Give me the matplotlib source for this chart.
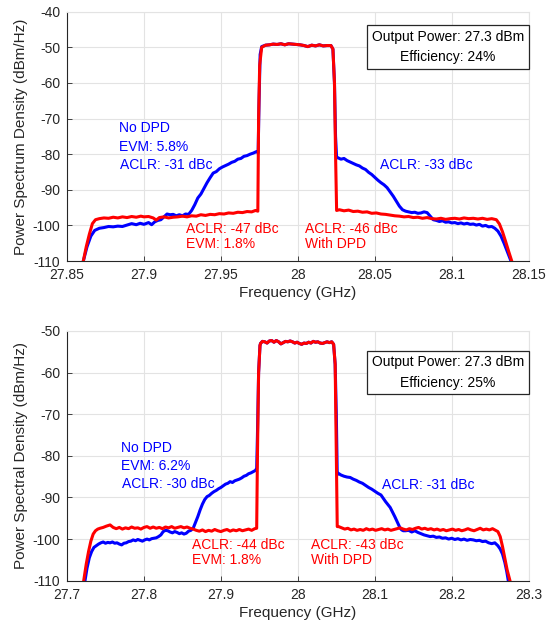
import matplotlib
matplotlib.use("Agg")
import matplotlib.pyplot as plt
from matplotlib.patches import Rectangle

plt.rcParams['font.family'] = ['Liberation Sans', 'DejaVu Sans']
plt.rcParams['axes.unicode_minus'] = False

# ---------------- Upper panel: 50 MHz carrier at 28 GHz ----------------
top_freq_nodpd = [
    27.8606, 27.8630, 27.8655, 27.8680, 27.8710, 27.8740, 27.8770, 27.8800, 27.8830, 27.8860,
    27.8890, 27.8920, 27.8950, 27.8975, 27.9000, 27.9030, 27.9050, 27.9070, 27.9090, 27.9110,
    27.9130, 27.9150, 27.9170, 27.9190, 27.9210, 27.9230, 27.9250, 27.9270, 27.9290, 27.9310,
    27.9330, 27.9350, 27.9370, 27.9390, 27.9410, 27.9430, 27.9450, 27.9470, 27.9490, 27.9510,
    27.9530, 27.9550, 27.9570, 27.9590, 27.9610, 27.9630, 27.9650, 27.9670, 27.9690, 27.9710,
    27.9730, 27.9742, 27.9748, 27.9755, 27.9765,
    27.9790, 27.9815, 27.9840, 27.9865, 27.9890, 27.9915, 27.9940, 27.9965, 27.9990, 28.0015,
    28.0040, 28.0065, 28.0090, 28.0115, 28.0140, 28.0165, 28.0190, 28.0215, 28.0228, 28.0238,
    28.0245, 28.0252,
    28.0260, 28.0280, 28.0300, 28.0320, 28.0340, 28.0360, 28.0380, 28.0400, 28.0420, 28.0440,
    28.0460, 28.0480, 28.0500, 28.0520, 28.0540, 28.0560, 28.0580, 28.0600, 28.0620, 28.0640,
    28.0660, 28.0680, 28.0700, 28.0720, 28.0740, 28.0760, 28.0780, 28.0800, 28.0820, 28.0840,
    28.0860, 28.0880, 28.0900, 28.0920, 28.0940, 28.0960, 28.0980, 28.1000, 28.1020, 28.1040,
    28.1060, 28.1080, 28.1100, 28.1120, 28.1140, 28.1160, 28.1180, 28.1200, 28.1220, 28.1240,
    28.1260, 28.1280, 28.1300, 28.1320, 28.1340, 28.1360, 28.1385,
]
top_psd_nodpd = [
    -110.0, -106.0, -103.0, -101.4, -100.8, -100.6, -100.3, -100.4, -100.2, -100.3,
    -99.9, -99.5, -99.8, -99.4, -99.7, -99.2, -99.8, -99.0, -98.6, -98.4,
    -97.6, -96.8, -97.0, -96.9, -97.3, -97.0, -97.3, -96.8, -96.9, -95.8,
    -94.2, -92.3, -91.2, -89.6, -88.0, -86.6, -85.3, -84.9, -84.1, -83.6,
    -83.2, -82.8, -82.3, -82.0, -81.4, -81.2, -80.6, -80.4, -80.0, -79.7,
    -79.3, -79.6, -65.0, -52.0, -49.8,
    -49.4, -49.3, -49.1, -49.2, -49.0, -49.3, -49.0, -49.1, -49.2, -49.3,
    -49.5, -49.8, -49.4, -49.6, -49.3, -49.6, -49.5, -49.5, -50.5, -60.0,
    -75.0, -81.0,
    -81.0, -81.4, -81.2, -81.8, -82.2, -82.6, -83.0, -83.3, -83.9, -84.3,
    -85.1, -85.7, -86.5, -87.3, -88.0, -88.6, -89.4, -90.6, -91.8, -93.2,
    -94.6, -95.6, -96.0, -96.2, -96.4, -96.3, -96.6, -96.5, -96.2, -96.4,
    -97.4, -98.4, -98.6, -98.9, -98.7, -99.1, -99.0, -99.3, -99.2, -99.5,
    -99.3, -99.6, -99.4, -99.7, -99.6, -99.9, -99.7, -100.2, -100.0, -100.4,
    -100.3, -100.8, -101.6, -103.0, -105.0, -107.2, -110.0,
]

top_freq_dpd = [
    27.8606, 27.8625, 27.8645, 27.8665, 27.8685, 27.8710, 27.8740, 27.8770, 27.8800, 27.8830,
    27.8860, 27.8890, 27.8920, 27.8950, 27.8980, 27.9000, 27.9030, 27.9060, 27.9080, 27.9100,
    27.9130, 27.9160, 27.9190, 27.9220, 27.9250, 27.9280, 27.9310, 27.9340, 27.9370, 27.9400,
    27.9430, 27.9460, 27.9490, 27.9520, 27.9550, 27.9580, 27.9610, 27.9640, 27.9670, 27.9700,
    27.9725, 27.9740, 27.9745, 27.9752, 27.9765,
    27.9790, 27.9815, 27.9840, 27.9865, 27.9890, 27.9915, 27.9940, 27.9965, 27.9990, 28.0015,
    28.0040, 28.0065, 28.0090, 28.0115, 28.0140, 28.0165, 28.0190, 28.0215, 28.0228, 28.0238,
    28.0245, 28.0252,
    28.0270, 28.0300, 28.0330, 28.0360, 28.0390, 28.0420, 28.0450, 28.0480, 28.0510, 28.0540,
    28.0570, 28.0600, 28.0630, 28.0660, 28.0690, 28.0720, 28.0750, 28.0780, 28.0810, 28.0840,
    28.0870, 28.0900, 28.0930, 28.0960, 28.0990, 28.1020, 28.1050, 28.1080, 28.1110, 28.1140,
    28.1170, 28.1200, 28.1230, 28.1260, 28.1290, 28.1310, 28.1330, 28.1350, 28.1370, 28.1390,
]
top_psd_dpd = [
    -110.0, -106.0, -102.5, -99.5, -98.4, -98.1, -97.9, -98.0, -97.7, -97.9,
    -97.6, -97.8, -97.5, -97.7, -97.4, -97.6, -97.5, -97.9, -98.5, -97.8,
    -97.6, -97.9, -97.7, -97.6, -97.4, -97.6, -97.3, -97.4, -97.0, -97.2,
    -96.9, -97.0, -96.7, -96.8, -96.5, -96.6, -96.3, -96.4, -96.1, -96.2,
    -95.8, -96.0, -70.0, -55.0, -50.0,
    -49.4, -49.3, -49.1, -49.2, -49.0, -49.3, -49.0, -49.1, -49.2, -49.3,
    -49.5, -49.8, -49.4, -49.6, -49.3, -49.6, -49.5, -49.5, -50.5, -60.0,
    -80.0, -95.8,
    -95.6, -95.9, -95.7, -96.1, -96.0, -96.3, -96.2, -96.6, -96.5, -96.8,
    -96.9, -97.1, -97.3, -97.4, -97.6, -97.5, -97.8, -97.7, -98.0, -97.8,
    -98.1, -98.2, -98.0, -98.3, -98.1, -98.0, -98.2, -97.9, -98.1, -98.0,
    -98.2, -98.0, -98.3, -98.1, -98.4, -99.6, -101.8, -104.5, -107.3, -110.0,
]

# ---------------- Lower panel: 100 MHz carrier at 28 GHz ----------------
bot_freq_nodpd = [
    27.7234, 27.7260, 27.7290, 27.7320, 27.7350, 27.7380, 27.7410, 27.7440, 27.7470, 27.7500,
    27.7530, 27.7560, 27.7590, 27.7620, 27.7650, 27.7680, 27.7710, 27.7740, 27.7770, 27.7800,
    27.7830, 27.7860, 27.7890, 27.7920, 27.7950, 27.7980, 27.8010, 27.8040, 27.8070, 27.8100,
    27.8130, 27.8160, 27.8190, 27.8220, 27.8250, 27.8280, 27.8310, 27.8340, 27.8370, 27.8400,
    27.8430, 27.8460, 27.8490, 27.8520, 27.8550, 27.8580, 27.8610, 27.8640, 27.8670, 27.8700,
    27.8730, 27.8760, 27.8790, 27.8820, 27.8850, 27.8880, 27.8910, 27.8940, 27.8970, 27.9000,
    27.9030, 27.9060, 27.9090, 27.9120, 27.9150, 27.9180, 27.9210, 27.9240, 27.9270, 27.9300,
    27.9330, 27.9360, 27.9390, 27.9420, 27.9450, 27.9465, 27.9475, 27.9490, 27.9508,
    27.9515, 27.9540, 27.9570, 27.9600, 27.9630, 27.9660, 27.9690, 27.9720, 27.9750, 27.9780,
    27.9810, 27.9840, 27.9870, 27.9900, 27.9930, 27.9960, 27.9990, 28.0020, 28.0050, 28.0080,
    28.0110, 28.0140, 28.0170, 28.0200, 28.0230, 28.0260, 28.0290, 28.0320, 28.0350, 28.0380,
    28.0410, 28.0440, 28.0465, 28.0485, 28.0500, 28.0512,
    28.0526, 28.0560, 28.0600, 28.0640, 28.0680, 28.0720, 28.0760, 28.0800, 28.0840, 28.0880,
    28.0920, 28.0960, 28.1000, 28.1040, 28.1080, 28.1110, 28.1140, 28.1170, 28.1200, 28.1230,
    28.1260, 28.1290, 28.1310, 28.1330, 28.1350, 28.1370, 28.1400, 28.1440, 28.1480, 28.1520,
    28.1560, 28.1600, 28.1640, 28.1680, 28.1720, 28.1760, 28.1800, 28.1840, 28.1880, 28.1920,
    28.1960, 28.2000, 28.2040, 28.2080, 28.2120, 28.2160, 28.2200, 28.2240, 28.2280, 28.2320,
    28.2360, 28.2400, 28.2440, 28.2480, 28.2520, 28.2560, 28.2600, 28.2630, 28.2660, 28.2690,
    28.2715, 28.2735,
]
bot_psd_nodpd = [
    -110.0, -107.0, -104.5, -103.0, -102.0, -101.6, -101.2, -100.9, -100.7, -101.0,
    -100.8, -100.9, -100.7, -101.0, -100.9, -101.2, -101.4, -101.0, -100.9, -100.6,
    -100.5, -100.2, -100.4, -100.1, -100.3, -100.5, -100.2, -100.0, -100.2, -99.9,
    -99.8, -99.7, -99.4, -99.0, -98.2, -97.9, -98.0, -98.3, -98.5, -98.2,
    -98.4, -98.7, -98.5, -98.8, -98.6, -98.1, -97.9, -97.4, -96.0, -94.6,
    -93.0, -91.6, -90.5, -89.8, -89.5, -89.0, -88.6, -88.3, -87.9, -87.6,
    -87.2, -86.8, -86.6, -86.2, -86.4, -86.0, -85.8, -85.6, -85.3, -84.9,
    -84.7, -84.3, -84.1, -83.8, -83.5, -83.0, -75.0, -60.0, -53.5,
    -53.0, -52.5, -52.6, -52.9, -52.4, -52.3, -52.7, -52.3, -52.6, -53.1,
    -52.8, -52.5, -52.6, -52.4, -52.6, -52.9, -52.7, -53.0, -53.2, -52.9,
    -53.0, -52.7, -52.9, -52.5, -52.7, -52.6, -52.9, -53.0, -52.8, -52.6,
    -52.8, -52.6, -53.2, -58.0, -70.0, -84.5,
    -84.2, -84.6, -84.9, -85.1, -85.2, -85.6, -85.9, -86.3, -86.6, -87.1,
    -87.6, -88.0, -88.5, -89.0, -89.4, -90.2, -91.0, -91.7, -92.4, -93.5,
    -94.6, -95.8, -96.6, -97.4, -97.8, -98.0, -98.0, -97.9, -98.3, -98.0,
    -98.4, -98.7, -99.0, -99.2, -99.4, -99.3, -99.6, -99.5, -99.8, -99.7,
    -100.0, -99.8, -100.1, -99.9, -100.2, -100.0, -100.3, -100.1, -100.2, -100.4,
    -100.3, -100.6, -100.5, -100.9, -101.1, -100.9, -101.6, -102.4, -103.6, -105.6,
    -107.8, -110.0,
]

bot_freq_dpd = [
    27.7217, 27.7250, 27.7280, 27.7310, 27.7340, 27.7370, 27.7400, 27.7430, 27.7470, 27.7510,
    27.7560, 27.7600, 27.7640, 27.7680, 27.7720, 27.7760, 27.7800, 27.7840, 27.7880, 27.7920,
    27.7960, 27.8000, 27.8040, 27.8080, 27.8120, 27.8160, 27.8200, 27.8240, 27.8280, 27.8320,
    27.8360, 27.8400, 27.8440, 27.8480, 27.8520, 27.8560, 27.8600, 27.8640, 27.8680, 27.8720,
    27.8760, 27.8800, 27.8840, 27.8880, 27.8920, 27.8960, 27.9000, 27.9040, 27.9080, 27.9120,
    27.9160, 27.9200, 27.9240, 27.9280, 27.9320, 27.9360, 27.9400, 27.9440, 27.9465, 27.9475,
    27.9490, 27.9508,
    27.9515, 27.9540, 27.9570, 27.9600, 27.9630, 27.9660, 27.9690, 27.9720, 27.9750, 27.9780,
    27.9810, 27.9840, 27.9870, 27.9900, 27.9930, 27.9960, 27.9990, 28.0020, 28.0050, 28.0080,
    28.0110, 28.0140, 28.0170, 28.0200, 28.0230, 28.0260, 28.0290, 28.0320, 28.0350, 28.0380,
    28.0410, 28.0440, 28.0465, 28.0485, 28.0500, 28.0512,
    28.0530, 28.0570, 28.0610, 28.0650, 28.0690, 28.0730, 28.0770, 28.0810, 28.0850, 28.0890,
    28.0930, 28.0970, 28.1010, 28.1050, 28.1090, 28.1130, 28.1170, 28.1210, 28.1250, 28.1290,
    28.1330, 28.1370, 28.1410, 28.1450, 28.1490, 28.1530, 28.1570, 28.1610, 28.1650, 28.1690,
    28.1730, 28.1770, 28.1810, 28.1850, 28.1890, 28.1930, 28.1970, 28.2010, 28.2050, 28.2090,
    28.2130, 28.2170, 28.2210, 28.2250, 28.2290, 28.2330, 28.2370, 28.2410, 28.2450, 28.2490,
    28.2530, 28.2570, 28.2600, 28.2630, 28.2660, 28.2690, 28.2720, 28.2757,
]
bot_psd_dpd = [
    -110.0, -106.0, -103.0, -100.5, -98.8, -98.0, -97.6, -97.4, -97.2, -96.9,
    -96.6, -97.2, -97.5, -97.2, -97.6, -97.3, -97.5, -97.1, -97.4, -97.3,
    -97.6, -97.2, -97.0, -97.4, -97.1, -97.4, -97.2, -97.5, -97.1, -97.3,
    -97.0, -97.4, -97.2, -97.0, -97.3, -97.1, -97.4, -97.6, -97.9, -98.1,
    -97.8, -98.2, -97.9, -98.1, -97.7, -98.0, -98.2, -97.9, -97.7, -98.1,
    -97.8, -98.0, -97.7, -98.0, -97.8, -97.6, -97.9, -97.5, -97.4, -80.0,
    -60.0, -53.5,
    -53.0, -52.5, -52.6, -52.9, -52.4, -52.3, -52.7, -52.3, -52.6, -53.1,
    -52.8, -52.5, -52.6, -52.4, -52.6, -52.9, -52.7, -53.0, -53.2, -52.9,
    -53.0, -52.7, -52.9, -52.5, -52.7, -52.6, -52.9, -53.0, -52.8, -52.6,
    -52.8, -52.6, -53.2, -58.0, -80.0, -97.0,
    -97.0, -97.3, -97.6, -97.4, -97.8, -97.6, -97.9, -97.7, -97.9, -97.5,
    -97.8, -97.6, -97.9, -97.7, -97.5, -97.8, -97.6, -97.9, -97.7, -97.5,
    -97.3, -97.6, -97.8, -97.5, -97.7, -97.4, -97.2, -97.6, -97.4, -97.7,
    -97.5, -97.8, -97.6, -97.9, -97.7, -98.0, -97.8, -97.6, -97.9, -97.7,
    -98.0, -97.8, -97.5, -97.8, -98.0, -97.7, -97.4, -97.8, -97.6, -97.8,
    -97.5, -97.9, -98.2, -99.4, -101.8, -104.6, -107.4, -110.0,
]

# Axis settings for each panel
top_xticks = [27.85, 27.9, 27.95, 28.0, 28.05, 28.1, 28.15]
top_xticklabels = ['27.85', '27.9', '27.95', '28', '28.05', '28.1', '28.15']
top_yticks = [-40, -50, -60, -70, -80, -90, -100, -110]
bot_xticks = [27.7, 27.8, 27.9, 28.0, 28.1, 28.2, 28.3]
bot_xticklabels = ['27.7', '27.8', '27.9', '28', '28.1', '28.2', '28.3']
bot_yticks = [-50, -60, -70, -80, -90, -100, -110]

BLUE = '#0000ff'
RED = '#ff0000'
AXCOL = '#262626'
GRIDCOL = '#e3e3e3'
FS = 10

fig = plt.figure(figsize=(5.47, 6.29), dpi=100)
ax1 = fig.add_axes([0.1225, 0.585, 0.844, 0.3964])
ax2 = fig.add_axes([0.1225, 0.0768, 0.844, 0.397])


def style_axes(ax, xticks, xlabels, yticks, ylabel):
    ax.set_xticks(xticks)
    ax.set_xticklabels(xlabels)
    ax.set_yticks(yticks)
    ax.set_xlim(xticks[0], xticks[-1])
    ax.set_ylim(min(yticks), max(yticks))
    ax.grid(True, color=GRIDCOL, linewidth=0.8)
    ax.set_axisbelow(True)
    ax.tick_params(direction='in', length=3.5, width=0.6, colors=AXCOL,
                   labelsize=FS, pad=5)
    for side in ('left', 'bottom'):
        ax.spines[side].set_color(AXCOL)
        ax.spines[side].set_linewidth(0.8)
    for side in ('top', 'right'):
        ax.spines[side].set_color(GRIDCOL)
        ax.spines[side].set_linewidth(0.8)
    ax.set_xlabel('Frequency (GHz)', fontsize=11, color=AXCOL, labelpad=3)
    ax.set_ylabel(ylabel, fontsize=11, color=AXCOL, labelpad=3)


def info_box(ax, y0, y1, line1, line2):
    ax.add_patch(Rectangle((0.649, y0), 1 - 0.649, y1 - y0, transform=ax.transAxes,
                           facecolor='white', edgecolor=AXCOL, linewidth=0.9,
                           zorder=5, clip_on=False))
    ym = (y0 + y1) / 2
    dy = (y1 - y0) * 0.23
    ax.text(0.8245, ym + dy, line1, transform=ax.transAxes, ha='center',
            va='center', fontsize=FS, color='black', zorder=6)
    ax.text(0.8245, ym - dy, line2, transform=ax.transAxes, ha='center',
            va='center', fontsize=FS, color='black', zorder=6)


# Upper panel
ax1.plot(top_freq_nodpd, top_psd_nodpd, color=BLUE, linewidth=2.2, zorder=3)
ax1.plot(top_freq_dpd, top_psd_dpd, color=RED, linewidth=2.2, zorder=4)
style_axes(ax1, top_xticks, top_xticklabels, top_yticks,
           'Power Spectrum Density (dBm/Hz)')
info_box(ax1, 0.769, 0.9466, 'Output Power: 27.3 dBm', 'Efficiency: 24%')
ax1.text(27.8838, -72.6, 'No DPD', color=BLUE, fontsize=FS, va='center', ha='left')
ax1.text(27.8838, -78.1, 'EVM: 5.8%', color=BLUE, fontsize=FS, va='center', ha='left')
ax1.text(27.8845, -83.1, 'ACLR: -31 dBc', color=BLUE, fontsize=FS, va='center', ha='left')
ax1.text(28.0532, -83.1, 'ACLR: -33 dBc', color=BLUE, fontsize=FS, va='center', ha='left')
ax1.text(27.9270, -101.0, 'ACLR: -47 dBc', color=RED, fontsize=FS, va='center', ha='left')
ax1.text(27.9270, -105.1, 'EVM: 1.8%', color=RED, fontsize=FS, va='center', ha='left')
ax1.text(28.0045, -101.0, 'ACLR: -46 dBc', color=RED, fontsize=FS, va='center', ha='left')
ax1.text(28.0045, -105.1, 'With DPD', color=RED, fontsize=FS, va='center', ha='left')

# Lower panel
ax2.plot(bot_freq_nodpd, bot_psd_nodpd, color=BLUE, linewidth=2.2, zorder=3)
ax2.plot(bot_freq_dpd, bot_psd_dpd, color=RED, linewidth=2.2, zorder=4)
style_axes(ax2, bot_xticks, bot_xticklabels, bot_yticks,
           'Power Spectral Density (dBm/Hz)')
info_box(ax2, 0.7465, 0.921, 'Output Power: 27.3 dBm', 'Efficiency: 25%')
ax2.text(27.7698, -78.0, 'No DPD', color=BLUE, fontsize=FS, va='center', ha='left')
ax2.text(27.7698, -82.4, 'EVM: 6.2%', color=BLUE, fontsize=FS, va='center', ha='left')
ax2.text(27.7711, -86.8, 'ACLR: -30 dBc', color=BLUE, fontsize=FS, va='center', ha='left')
ax2.text(28.1090, -87.0, 'ACLR: -31 dBc', color=BLUE, fontsize=FS, va='center', ha='left')
ax2.text(27.8628, -101.4, 'ACLR: -44 dBc', color=RED, fontsize=FS, va='center', ha='left')
ax2.text(27.8628, -105.0, 'EVM: 1.8%', color=RED, fontsize=FS, va='center', ha='left')
ax2.text(28.0167, -101.4, 'ACLR: -43 dBc', color=RED, fontsize=FS, va='center', ha='left')
ax2.text(28.0167, -105.0, 'With DPD', color=RED, fontsize=FS, va='center', ha='left')

fig.savefig('out.png', dpi=100)
